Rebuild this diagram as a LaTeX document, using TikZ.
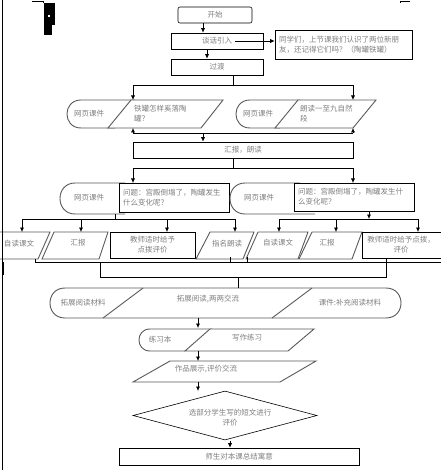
\documentclass[tikz,border=0pt]{standalone}
\usepackage{fontspec}
\newfontfamily\cjk{Noto Sans CJK SC}
\usetikzlibrary{arrows.meta,shapes.geometric}
\begin{document}
\begin{tikzpicture}[x=1pt,y=-1pt,
  box/.style={draw=black,line width=0.6pt,fill=white,inner sep=0pt},
  shp/.style={draw=black!65,line width=0.9pt,fill=white},
  lbl/.style={font=\cjk\fontsize{7.5}{10}\selectfont,text=black!50,align=center,inner sep=0pt},
  lbll/.style={lbl,align=left,anchor=west},
  arr/.style={-{Latex[length=4.5pt,width=4pt]},line width=0.6pt},
  ln/.style={line width=0.6pt}]
\useasboundingbox (0,0) rectangle (440,470);
\fill[white] (0,0) rectangle (440,470);

% page marks
\draw[line width=0.5pt] (32,1) -- (43,1) -- (43,3);
\draw[line width=0.5pt] (410,1) -- (400,1) -- (400,3);
\fill[black] (44,3) rectangle (55,25);
\fill[black] (44,25) rectangle (52,35);
\fill[white] (48,15) rectangle (50,17);

% top
\node[box,lbl,rounded corners=2pt,minimum width=74pt,minimum height=16pt] (start) at (215,15) {开始};
\node[box,lbl,minimum width=92pt,minimum height=16pt] (intro) at (217,41) {谈话引入};
\node[box,minimum width=137pt,minimum height=29pt] (call) at (343.5,44.5) {};
\node[lbll] (callt) at (279,44.5) {同学们，上节课我们认识了两位新朋\\友，还记得它们吗？（陶罐铁罐）};
\node[box,lbl,minimum width=92pt,minimum height=16pt] (trans) at (217,67) {过渡};

\draw[arr] ([xshift=-12pt]start.south) -- ([xshift=-12pt]start.south |- intro.north);
\draw[arr] ([xshift=18pt]intro.center) -- (call.west |- intro.center);
\draw[arr] ([xshift=-10pt]intro.south) -- ([xshift=-10pt]intro.south |- trans.north);

% split 1
\coordinate (j1) at (233,85);
\coordinate (b2a) at (133,85);
\coordinate (b2b) at (353,85);
\coordinate (L2top) at (133,100);
\coordinate (R2top) at (353,100);
\draw[ln] ([xshift=16pt]trans.south) -- (j1);
\draw[ln] (b2a) -- (b2b);
\draw[arr] (b2a) -- (L2top);
\draw[arr] (b2b) -- (R2top);

% row 2 left
\draw[shp] (135,100) -- (81,100) .. controls (62.3,100) and (62.3,128) .. (81,128) -- (115,128);
\draw[shp] (131,100) -- (223,100) -- (201,128) -- (108,128) -- cycle;
\node[lbl] (L2a) at (89,114) {网页课件};
\node[lbll] (L2b) at (134,114) {铁罐怎样奚落陶\\罐？};
% row 2 right
\draw[shp] (300,100) -- (250,100) .. controls (231.3,100) and (231.3,128) .. (250,128) -- (280,128);
\draw[shp] (298,100) -- (376,100) -- (353,128) -- (275,128) -- cycle;
\node[lbl] (R2a) at (258,114) {网页课件};
\node[lbll] (R2b) at (300,114) {朗读一至九自然\\段};

% merge 2
\coordinate (L2bot) at (133,128);
\coordinate (R2bot) at (353,128);
\coordinate (m2a) at (133,133);
\coordinate (m2b) at (353,133);
\coordinate (m2c) at (203,133);
\draw[ln] (m2a) -- (m2b);
\draw[arr] (m2a) -- (L2bot);
\draw[arr] (m2b) -- (R2bot);

\node[box,lbl,minimum width=220pt,minimum height=16pt] (rd) at (243,150) {汇报，朗读};
\draw[arr] (m2c) -- (m2c |- rd.north);

% split 3
\coordinate (j3) at (233,168);
\coordinate (b4a) at (133,168);
\coordinate (b4b) at (353,168);
\coordinate (L4top) at (133,183);
\coordinate (R4top) at (353,183);
\draw[ln] ([xshift=-10pt]rd.south) -- (j3);
\draw[ln] (b4a) -- (b4b);

% row 4 left
\draw[shp] (125,183) -- (75,183) .. controls (55,183) and (55,214) .. (75,214) -- (125,214);
\node[box,minimum width=110pt,minimum height=29pt] (L4q) at (174,197.5) {};
\node[lbll] (L4qt) at (123,197.5) {问题：宫殿倒塌了，陶罐发生\\什么变化呢？};
\node[lbl] (L4a) at (89,198) {网页课件};
% row 4 right
\draw[shp] (300,183) -- (245,183) .. controls (225,183) and (225,214) .. (245,214) -- (315,214);
\node[box,minimum width=120pt,minimum height=28pt] (R4q) at (354,197) {};
\node[lbll] (R4qt) at (298,197) {问题：宫殿倒塌了，陶罐发生什\\么变化呢？};
\node[lbl] (R4a) at (259,198) {网页课件};

\draw[arr] (b4a) -- (L4top);
\draw[arr] (b4b) -- (R4top);

% split 4 left
\coordinate (L4o) at (115,214);
\coordinate (s4l) at (115,219);
\coordinate (s4a) at (22,219);
\coordinate (s4b) at (81,219);
\coordinate (s4c) at (167,219);
\coordinate (s4d) at (235,219);
\draw[ln] (L4o) -- (s4l);
\draw[ln] (s4a) -- (s4d);
% split 4 right
\coordinate (R4o) at (369,219);
\coordinate (s4e) at (279,219);
\coordinate (s4f) at (336,219);
\coordinate (s4g) at (418,219);
\draw[arr] (R4q.south -| R4o) -- (R4o);
\draw[ln] (s4e) -- (s4g);

% row 5
\draw[shp] (0,232) -- (50,232) -- (38,259) -- (0,259);
\node[lbl] (r5a) at (19,244) {自读课文};
\draw[shp] (54,232) -- (108,232) -- (99,259) -- (42,259) -- cycle;
\node[lbl] (r5b) at (78,243) {汇报};
\node[box,lbl,minimum width=85pt,minimum height=26pt] (r5c) at (152.5,245) {教师适时给予\\点拨评价};
\draw[shp] (210,232) -- (254,232) -- (243,259) -- (196,259) -- cycle;
\node[lbl] (r5d) at (227,244) {指名朗读};
\draw[shp] (258,232) -- (308,232) -- (298,259) -- (246,259) -- cycle;
\node[lbl] (r5e) at (278,243) {自读课文};
\draw[shp] (312,232) -- (362,232) -- (352,259) -- (299,259) -- cycle;
\node[lbl] (r5f) at (327,243) {汇报};
\node[box,minimum width=88pt,minimum height=26pt] (r5g) at (406,245) {};
\node[lbl] (r5gt) at (401,245) {教师适时给予点拨，\\评价};

\foreach \c/\t in {s4a/232,s4b/232,s4c/232,s4d/232,s4e/232,s4f/232,s4g/232}
  \draw[arr] (\c) -- (\c |- 0,\t);

% merge 5
\coordinate (m5a) at (35,262);
\coordinate (m5b) at (445,262);
\coordinate (m5c) at (100,262);
\coordinate (m5d) at (100,277);
\coordinate (m5e) at (386,277);
\coordinate (m5f) at (386,259);
\coordinate (m5g) at (238,277);
\draw[ln] (35,259) -- (m5a) -- (m5b);
\draw[ln] (230,257) -- (230,262);
\draw[ln] (247,257) -- (247,262);
\draw[ln] (m5c) -- (m5d) -- (m5e) -- (m5f);

% row 7
\draw[shp] (65,288) -- (386,288) .. controls (406,288) and (406,318) .. (386,318) -- (65,318) .. controls (45,318) and (45,288) .. (65,288) -- cycle;
\draw[shp] (103,318) -- (143,288);
\draw[shp] (272,318) -- (312,288);
\node[lbl] (r7a) at (83,303) {拓展阅读材料};
\node[lbl] (r7b) at (208,299) {拓展阅读,两两交流};
\node[lbl] (r7c) at (350,303) {课件:补充阅读材料};
\coordinate (r7top) at (238,288);
\draw[ln] (m5g) -- (r7top);

% row 8
\coordinate (r7bot) at (198,318);
\coordinate (r8top) at (198,328);
\draw[arr] (r7bot) -- (r8top);
\draw[shp] (212,329) -- (150,329) .. controls (135.3,329) and (135.3,351) .. (150,351) -- (185,351);
\draw[shp] (210,329) -- (314,329) -- (288,351) -- (185,351) -- cycle;
\node[lbl] (r8a) at (160,340) {练习本};
\node[lbl] (r8b) at (247,338) {写作练习};

% row 9
\coordinate (r8bot) at (198,351);
\coordinate (r9top) at (198,361);
\draw[arr] (r8bot) -- (r9top);
\draw[shp] (170,361) -- (316,361) -- (280,382) -- (133,382) -- cycle;
\node[lbl] (r9) at (206,369) {作品展示,评价交流};

% diamond
\coordinate (r9bot) at (198,382);
\coordinate (dtop) at (198,391);
\draw[arr] (r9bot) -- (dtop);
\node[draw=black,line width=0.6pt,fill=white,diamond,aspect=3.75,minimum width=184pt,minimum height=49pt,inner sep=0pt] (dia) at (225,415.5) {};
\node[lbl] (diat) at (230,418) {选部分学生写的短文进行\\评价};

% end
\node[box,lbl,minimum width=240pt,minimum height=17pt] (fin) at (239,456.5) {师生对本课总结寓意};
\coordinate (dbot) at (230,441);
\draw[arr] (dbot) -- (dbot |- fin.north);

% page border
\draw[line width=1pt] (2,0) -- (2,470);
\draw[line width=2pt] (3,262) -- (3,275);
\end{tikzpicture}
\end{document}
